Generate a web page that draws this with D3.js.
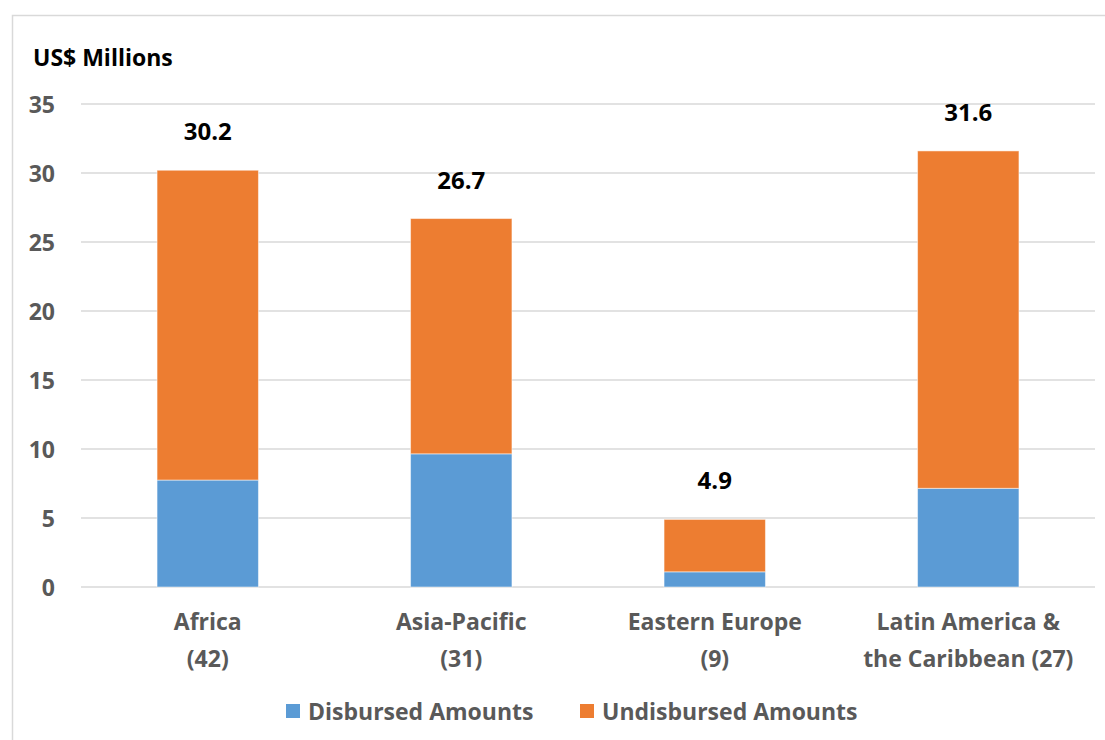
<!DOCTYPE html>
<html><head><meta charset="utf-8">
<script src="https://cdn.jsdelivr.net/npm/d3@7"></script>
<style>
body{margin:0;background:#fff;}
svg{display:block;font-family:"Open Sans","Noto Sans",sans-serif;font-weight:700;}
</style></head>
<body><svg id="c" width="1105" height="740"></svg>
<script>
const categories = [["Africa","(42)"],["Asia-Pacific","(31)"],["Eastern Europe","(9)"],["Latin America &","the Caribbean (27)"]];
const disbursed = [7.75, 9.65, 1.1, 7.15];
const totals = [30.2, 26.7, 4.9, 31.6];
const undisbursed = totals.map((t,i)=>t-disbursed[i]);
const totalLabels = ["30.2","26.7","4.9","31.6"];
const yTicks = [0,5,10,15,20,25,30,35];
const seriesNames = ["Disbursed Amounts","Undisbursed Amounts"];
const colors = ["#5B9BD5","#ED7D31"];

const svg = d3.select("#c");
// frame
svg.append("rect").attr("x",12.5).attr("y",15.5).attr("width",1105).attr("height",740)
  .attr("fill","none").attr("stroke","#d9d9d9").attr("stroke-width",1.5);

const x = d3.scaleBand().domain(d3.range(4)).range([81,1095]).paddingInner(0.6).paddingOuter(0.3);
const y = d3.scaleLinear().domain([0,35]).range([587,104]);

// gridlines
svg.append("g").selectAll("line").data(yTicks).join("line")
  .attr("x1",81).attr("x2",1095).attr("y1",d=>y(d)).attr("y2",d=>y(d))
  .attr("stroke","#d9d9d9").attr("stroke-width",1.5);

// y axis labels
const yAxis = d3.axisLeft(y).tickValues(yTicks).tickSize(0).tickPadding(0);
const ya = svg.append("g").attr("transform","translate(55,0)").call(yAxis);
ya.select(".domain").remove();
ya.selectAll("text").attr("font-size",23).attr("font-weight",700).attr("fill","#595959")
  .attr("font-family","'Open Sans',sans-serif").attr("text-anchor","end").attr("dy","0.35em");

// stacked bars
const stackData = categories.map((c,i)=>({i, d:disbursed[i], u:undisbursed[i]}));
const stack = d3.stack().keys(["d","u"])(stackData);
svg.append("g").selectAll("g").data(stack).join("g").attr("fill",(s,k)=>colors[k])
  .selectAll("rect").data(s=>s).join("rect")
  .attr("x",d=>x(d.data.i)).attr("width",x.bandwidth())
  .attr("y",d=>y(d[1])).attr("height",d=>y(d[0])-y(d[1]))
  .attr("stroke","#ffffff").attr("stroke-opacity",0.5).attr("stroke-width",1);

// total labels
svg.append("g").selectAll("text").data(totals).join("text")
  .attr("x",(d,i)=>x(i)+x.bandwidth()/2).attr("y",d=>y(d)-30)
  .attr("text-anchor","middle").attr("font-size",24).attr("fill","#000").text((d,i)=>totalLabels[i]);

// category labels
const cg = svg.append("g").selectAll("text").data(categories).join("text")
  .attr("text-anchor","middle").attr("font-size",23).attr("fill","#595959")
  .attr("transform",(d,i)=>`translate(${x(i)+x.bandwidth()/2},0)`);
cg.selectAll("tspan").data(d=>d).join("tspan").attr("x",0).attr("y",(d,j)=>630+j*37).text(d=>d);

// title
svg.append("text").attr("x",33).attr("y",66).attr("font-size",23).attr("fill","#000").text("US$ Millions");

// legend
const lg = svg.append("g");
const lx = [286, 580];
seriesNames.forEach((n,k)=>{
  lg.append("rect").attr("x",lx[k]).attr("y",704).attr("width",14).attr("height",14).attr("fill",colors[k]);
  lg.append("text").attr("x",lx[k]+22).attr("y",720).attr("font-size",23).attr("fill","#595959").text(n);
});
</script></body></html>
